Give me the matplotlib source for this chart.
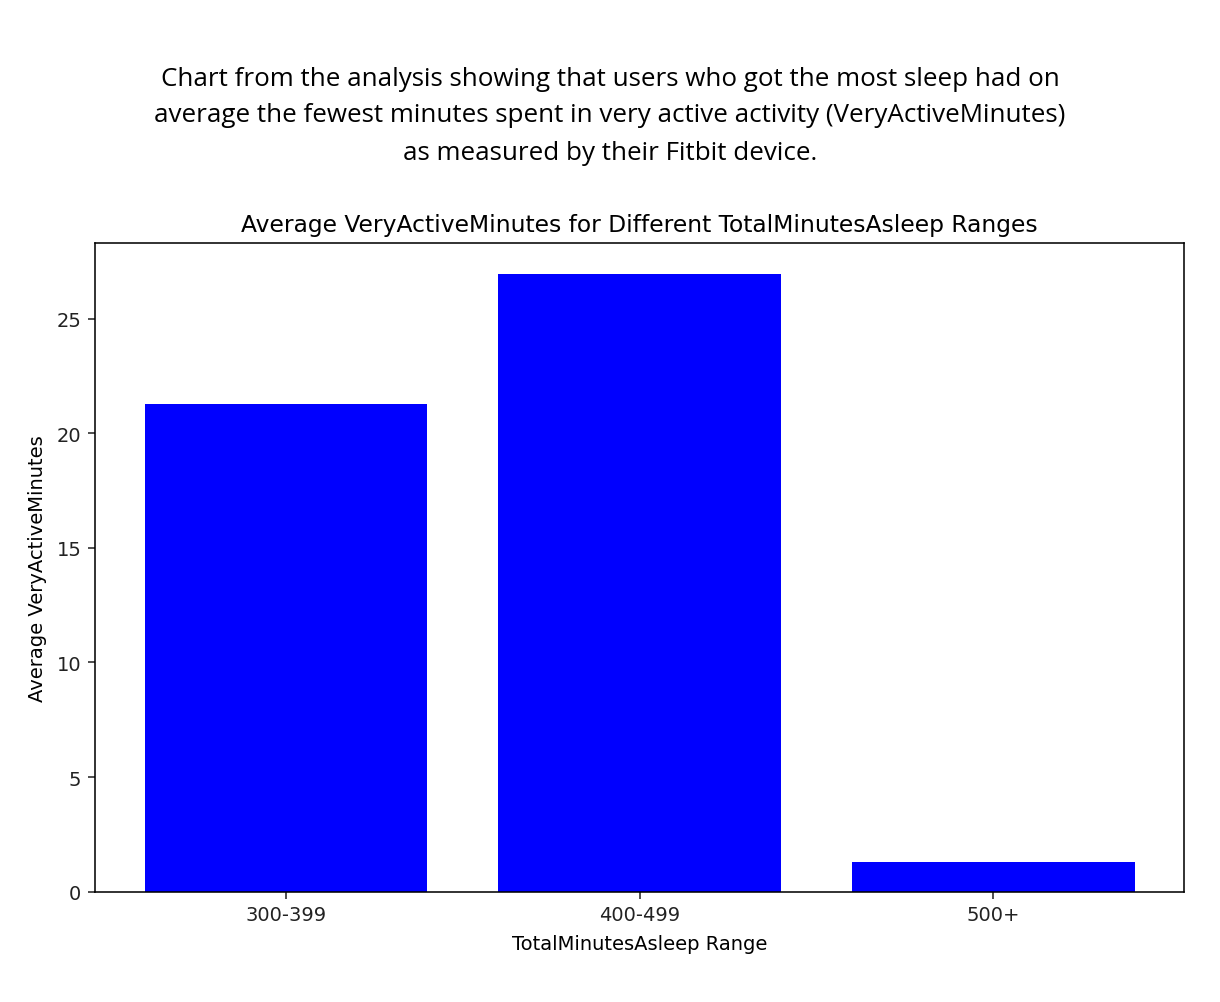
import matplotlib
matplotlib.use("Agg")
import matplotlib.pyplot as plt

categories = ["300-399", "400-499", "500+"]
values = [21.27, 26.95, 1.28]

caption_lines = [
    "Chart from the analysis showing that users who got the most sleep had on",
    "average the fewest minutes spent in very active activity (VeryActiveMinutes)",
    "as measured by their Fitbit device.",
]

S = 1.405
plt.rcParams['axes.linewidth'] = 0.8 * S
plt.rcParams['xtick.major.width'] = 0.8 * S
plt.rcParams['ytick.major.width'] = 0.8 * S
plt.rcParams['xtick.major.size'] = 3.5 * S
plt.rcParams['ytick.major.size'] = 3.5 * S
plt.rcParams['xtick.major.pad'] = 3.5 * S
plt.rcParams['ytick.major.pad'] = 3.5 * S

fig = plt.figure(figsize=(12.2, 10.03), dpi=100)
ax = fig.add_axes([0.0779, 0.110, 0.8926, 0.6468])
ax.bar(categories, values, color="blue", width=0.8)
ax.set_title("Average VeryActiveMinutes for Different TotalMinutesAsleep Ranges",
             fontsize=12 * S, pad=6 * S)
ax.set_xlabel("TotalMinutesAsleep Range", fontsize=10 * S, labelpad=4 * S + 1.5)
ax.set_ylabel("Average VeryActiveMinutes", fontsize=10 * S, labelpad=4 * S + 1.5)
ax.tick_params(labelsize=10 * S, colors="#222222")

for i, line in enumerate(caption_lines):
    fig.text(0.5, 1 - (79 + 37 * i) / 1003, line, ha="center", va="center",
             fontsize=18.7, family="Open Sans", color="black")

fig.savefig("out.png", dpi=100)
